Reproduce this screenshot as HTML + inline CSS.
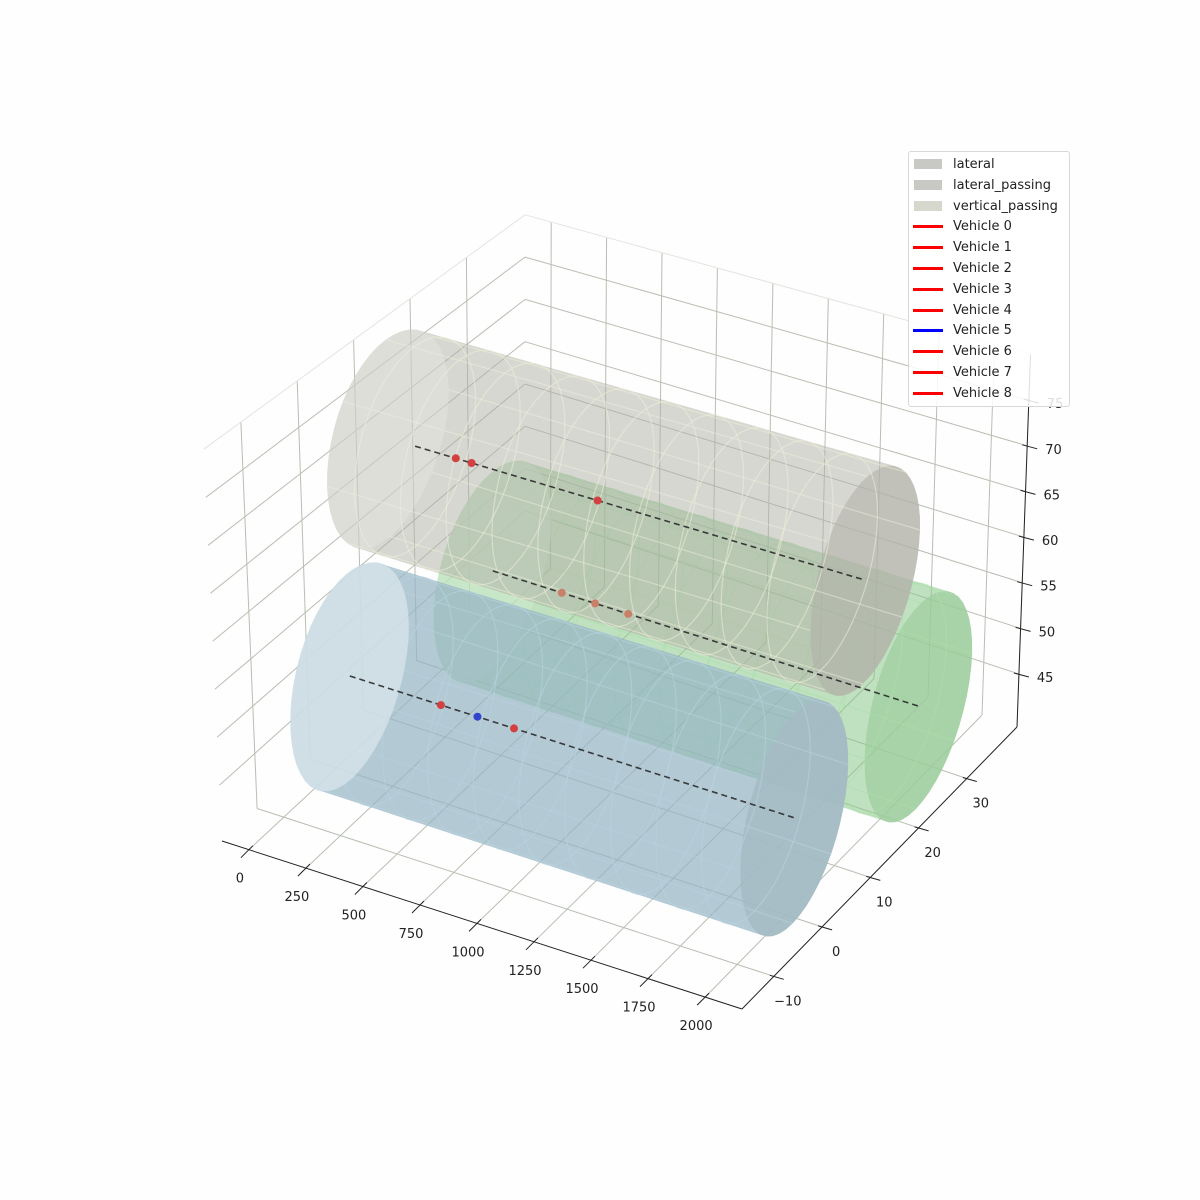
<!DOCTYPE html>
<html><head><meta charset="utf-8"><style>
body{margin:0;background:#fefefe;}
#wrap{position:relative;width:1200px;height:1200px;overflow:hidden;font-family:"DejaVu Sans","Liberation Sans",sans-serif;}
svg text{font-family:"DejaVu Sans","Liberation Sans",sans-serif;font-size:13px;fill:#222;}
#legend{position:absolute;left:908px;top:151px;width:160px;height:254px;border:1px solid #d8d8d8;border-radius:3px;background:rgba(255,255,255,0.85);}
.le{position:absolute;left:0;height:20px;font-size:13px;color:#222;white-space:nowrap;}
.le .sw{position:absolute;left:4px;width:30px;}
.le .tx{position:absolute;left:44px;top:2px;}
</style></head><body>
<div id="wrap">
<svg id="svg" width="1200" height="1200"></svg>
<div id="legend"></div>
</div>
<script>
// ---- data ----
const xTicks=[0,250,500,750,1000,1250,1500,1750,2000];
const yTicks=[-10,0,10,20,30];
const zTicks=[45,50,55,60,65,70,75];
const laneNames=["lateral","lateral_passing","vertical_passing"];
const laneX0=[200,-120,0];
const laneX1=[2117,1990,1970];
const laneY=[21.4,15.7,2.9];
const laneZ=[51.1,66.4,47.6];
const laneR=[11,11,11];
const trajX0=[200,0,0];
const trajX1=[2117,1990,1970];
const vehX=[511,661,810,180,250,807,404,566,728];
const vehLane=[0,0,0,1,1,1,2,2,2];
const markerBlue=[false,false,false,false,false,false,false,true,false];
const vehNames=["Vehicle 0","Vehicle 1","Vehicle 2","Vehicle 3","Vehicle 4","Vehicle 5","Vehicle 6","Vehicle 7","Vehicle 8"];
const legendBlue=[false,false,false,false,false,true,false,false,false];

// ---- projection ----
const XMIN=-118,XMAX=2162,YMIN=-16.6,YMAX=40.4,ZMIN=39.2,ZMAX=80;
const C00=[222,841],C10=[742,1009],C11=[1017,727],C01=[525,560];
const H00=9.6,H10=9.9,H11=9.13,H01=8.46;
const T00=-0.45,T10=0.1,T11=0.33,T01=0;
function bl(a,b,c,d,u,v){return (a*(1-u)+b*u)*(1-v)+(d*(1-u)+c*u)*v;}
function P(x,y,z){
  const u=(x-XMIN)/(XMAX-XMIN),v=(y-YMIN)/(YMAX-YMIN);
  const px=bl(C00[0],C10[0],C11[0],C01[0],u,v),py=bl(C00[1],C10[1],C11[1],C01[1],u,v);
  const h=bl(H00,H10,H11,H01,u,v),t=bl(T00,T10,T11,T01,u,v);
  return [px+t*(z-ZMIN),py-h*(z-ZMIN)];
}
const svg=document.getElementById('svg');const NS='http://www.w3.org/2000/svg';
function mk(tag,attrs,parent){const e=document.createElementNS(NS,tag);for(const k in attrs)e.setAttribute(k,attrs[k]);(parent||svg).appendChild(e);return e;}
function line(a,b,st,w,g){return mk('line',{x1:a[0].toFixed(1),y1:a[1].toFixed(1),x2:b[0].toFixed(1),y2:b[1].toFixed(1),stroke:st,'stroke-width':w},g);}
function pts(arr){return arr.map(p=>p[0].toFixed(1)+','+p[1].toFixed(1)).join(' ');}

// grid
const grid=mk('g',{});


const GC='#b9bfb2';
xTicks.forEach(xt=>{line(P(xt,YMIN,ZMIN),P(xt,YMAX,ZMIN),GC,1,grid);line(P(xt,YMAX,ZMIN),P(xt,YMAX,ZMAX),GC,1,grid);});
yTicks.forEach(yt=>{line(P(XMIN,yt,ZMIN),P(XMAX,yt,ZMIN),GC,1,grid);line(P(XMIN,yt,ZMIN),P(XMIN,yt,ZMAX),GC,1,grid);});
zTicks.forEach(zt=>{line(P(XMIN,YMAX,zt),P(XMAX,YMAX,zt),GC,1,grid);line(P(XMIN,YMIN,zt),P(XMIN,YMAX,zt),GC,1,grid);});
const EC='#e4e4e0';
line(P(XMIN,YMAX,ZMAX),P(XMAX,YMAX,ZMAX),EC,1,grid);line(P(XMIN,YMIN,ZMAX),P(XMIN,YMAX,ZMAX),EC,1,grid);
line(P(XMAX,YMAX,ZMIN),P(XMAX,YMAX,ZMAX),EC,1,grid);

// cylinders
function hull(p){p=p.slice().sort((a,b)=>a[0]-b[0]||a[1]-b[1]);const cr=(o,a,b)=>(a[0]-o[0])*(b[1]-o[1])-(a[1]-o[1])*(b[0]-o[0]);
 const lo=[],up=[];for(const q of p){while(lo.length>=2&&cr(lo[lo.length-2],lo[lo.length-1],q)<=0)lo.pop();lo.push(q);}
 for(let i=p.length-1;i>=0;i--){const q=p[i];while(up.length>=2&&cr(up[up.length-2],up[up.length-1],q)<=0)up.pop();up.push(q);}
 up.pop();lo.pop();return lo.concat(up);}
function ell(x,yc,zc,r){const a=[];for(let i=0;i<48;i++){const t=i/48*2*Math.PI;a.push(P(x,yc+r*Math.cos(t),zc+r*Math.sin(t)));}return a;}
const styles=[
 {fill:'rgb(130,195,130)',op:0.5,ring:'#a8e0a8',cap:'rgb(185,215,185)',capOp:0.7,front:'rgb(205,235,205)',frontOp:0.6},
 {fill:'rgb(175,175,165)',op:0.5,ring:'#eeeed8',cap:'rgb(180,182,172)',capOp:0.6,front:'rgb(235,235,228)',frontOp:0.35},
 {fill:'rgb(150,180,195)',op:0.72,ring:'#b8d4e0',cap:'rgb(205,205,198)',capOp:0.8,front:'rgb(218,229,236)',frontOp:0.75}];
for(let L=0;L<3;L++){
  const s=styles[L];const g=mk('g',{});
  
  
  const e0=ell(laneX0[L],laneY[L],laneZ[L],laneR[L]),e1=ell(laneX1[L],laneY[L],laneZ[L],laneR[L]);
  mk('polygon',{points:pts(e1),fill:s.cap,opacity:s.capOp},g);
  mk('polygon',{points:pts(hull(e0.concat(e1))),fill:s.fill,opacity:s.op},g);
  for(let k=0;k<8;k++){const t=k/8*2*Math.PI;const yy=laneY[L]+laneR[L]*Math.cos(t),zz=laneZ[L]+laneR[L]*Math.sin(t);
    line(P(laneX0[L],yy,zz),P(laneX1[L],yy,zz),s.ring,1.2,g).setAttribute('opacity',0.5);}
  for(let xr=Math.ceil(laneX0[L]/200)*200;xr<laneX1[L];xr+=200){
    mk('polygon',{points:pts(ell(xr,laneY[L],laneZ[L],laneR[L])),fill:'none',stroke:s.ring,'stroke-width':1.2,opacity:0.55},g);}
  mk('polygon',{points:pts(e0),fill:s.front,opacity:s.frontOp},g);
}
// trajectories
for(let L=0;L<3;L++){
  const a=P(trajX0[L],laneY[L],laneZ[L]),b=P(trajX1[L],laneY[L],laneZ[L]);
  const l=line(a,b,'#222',1.6);l.setAttribute('stroke-dasharray','6,4');l.setAttribute('opacity',0.85);
  
  
}
for(let i=0;i<vehX.length;i++){
  const L=vehLane[i];const p=P(vehX[i],laneY[L],laneZ[L]);
  const col=markerBlue[i]?'#3344cc':(L===0?'#c98068':'#d24040');
  const c=mk('circle',{cx:p[0].toFixed(1),cy:p[1].toFixed(1),r:4,fill:col});
  
  
}
// axes
const ax=mk('g',{});


line(P(XMIN,YMIN,ZMIN),P(XMAX,YMIN,ZMIN),'#222',1,ax);
line(P(XMAX,YMIN,ZMIN),P(XMAX,YMAX,ZMIN),'#222',1,ax);
line(P(XMAX,YMAX,ZMIN),P(XMAX,YMAX,ZMAX),'#222',1,ax);
xTicks.forEach(xt=>{const p=P(xt,YMIN,ZMIN);line([p[0]+4,p[1]-4],[p[0]-8,p[1]+8],'#222',1,ax);
  const t=mk('text',{x:(p[0]-9).toFixed(1),y:(p[1]+33).toFixed(1),'text-anchor':'middle'},ax);t.textContent=String(xt);});
yTicks.forEach(yt=>{const p=P(XMAX,yt,ZMIN);line([p[0]-4,p[1]-1],[p[0]+10,p[1]+3],'#222',1,ax);
  const t=mk('text',{x:(p[0]+14).toFixed(1),y:(p[1]+29).toFixed(1),'text-anchor':'middle'},ax);t.textContent=yt<0?'\u2212'+(-yt):String(yt);});
zTicks.forEach(zt=>{const p=P(XMAX,YMAX,zt);line([p[0]-5,p[1]-1],[p[0]+10,p[1]+3],'#222',1,ax);
  const t=mk('text',{x:(p[0]+18).toFixed(1),y:(p[1]+8).toFixed(1)},ax);t.textContent=String(zt);});
// legend
const leg=document.getElementById('legend');
const patchCols=['#c8c9c4','#c8c9c4','#d6d7cd'];
function addEntry(i,label,sw,isPatch,name){
  const d=document.createElement('div');d.className='le';d.style.top=(3+i*20.8)+'px';
  
  
  const s=document.createElement('div');s.className='sw';
  if(isPatch){s.style.top='4px';s.style.height='10px';s.style.left='5px';s.style.width='28px';s.style.background=sw;}
  else{s.style.top='8px';s.style.height='3px';s.style.background=sw;}
  const t=document.createElement('div');t.className='tx';t.textContent=label;
  d.appendChild(s);d.appendChild(t);leg.appendChild(d);
}
laneNames.forEach((n,i)=>addEntry(i,n,patchCols[i],true,'legend-'+n.replace('_','-')));
vehNames.forEach((n,i)=>addEntry(3+i,n,legendBlue[i]?'#0000ff':'#ff0000',false,'legend-vehicle-'+i));
</script>
</body></html>
